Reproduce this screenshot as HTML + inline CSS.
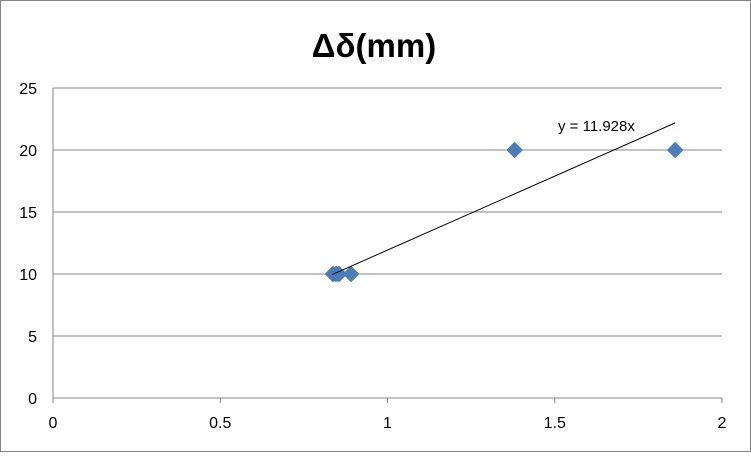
<!DOCTYPE html>
<html><head><meta charset="utf-8"><style>
body{margin:0;background:#fff;font-family:"Liberation Sans",sans-serif}
</style></head><body>
<svg id="chart" width="751" height="452" xmlns="http://www.w3.org/2000/svg">
<rect x="0.5" y="0.5" width="750" height="451" fill="#fff" stroke="#868686"/>
<text x="374" y="57" text-anchor="middle" font-size="33" font-weight="bold">Δδ(mm)</text>
<g id="grid"></g><g id="axes"></g><g id="marks"></g>
</svg>
<script>
const xVals=[0.837,0.846,0.855,0.891,1.38,1.86];
const yVals=[10,10,10,10,20,20];
const xTicks=[0,0.5,1,1.5,2];
const xTickLabels=["0","0.5","1","1.5","2"];
const yTicks=[0,5,10,15,20,25];
const slope=[11.928];
const trendRange=[0.834,1.86];
const ns="http://www.w3.org/2000/svg";
const X0=53,X1=722,Y0=398,Y1=88;
const sx=v=>X0+(v-0)/(2-0)*(X1-X0);
const sy=v=>Y0-(v-0)/(25-0)*(Y0-Y1);
function mk(t,a,p){const e=document.createElementNS(ns,t);for(const k in a)e.setAttribute(k,a[k]);p.appendChild(e);return e;}
const grid=document.getElementById('grid'),axes=document.getElementById('axes'),marks=document.getElementById('marks');
yTicks.forEach(v=>{
 if(v>0){const l=mk('line',{x1:X0,x2:X1,y1:sy(v),y2:sy(v),stroke:'#868686','stroke-width':1},grid);
 
 }
 const t=mk('text',{x:X0-16,y:sy(v)+6,'text-anchor':'end','font-size':16},axes);t.textContent=String(v);
 
 
});
xTicks.forEach((v,i)=>{
 const t=mk('text',{x:sx(v),y:Y0+30,'text-anchor':'middle','font-size':16},axes);t.textContent=xTickLabels[i];
 
 
 const tk=mk('line',{x1:sx(v),x2:sx(v),y1:Y0,y2:Y0+5,stroke:'#868686'},axes);
 
 
});
const xa=mk('line',{x1:X0,x2:X1,y1:Y0,y2:Y0,stroke:'#868686'},axes);


const ya=mk('line',{x1:X0,x2:X0,y1:Y1,y2:Y0,stroke:'#868686'},axes);


xVals.forEach((v,i)=>{
 const cx=sx(v),cy=sy(yVals[i]),r=8;
 const p=mk('polygon',{points:`${cx},${cy-r} ${cx+r},${cy} ${cx},${cy+r} ${cx-r},${cy}`,fill:'#4a7ebb',stroke:'#3c6fae','stroke-width':0.5},marks);
 
 
});
const tl=mk('line',{x1:sx(trendRange[0]),y1:sy(slope[0]*trendRange[0]),x2:sx(trendRange[1]),y2:sy(slope[0]*trendRange[1]),stroke:'#000','stroke-width':1},marks);


const eq=mk('text',{x:558,y:131,'font-size':15},marks);eq.textContent='y = '+slope[0]+'x';


</script>
</body></html>
